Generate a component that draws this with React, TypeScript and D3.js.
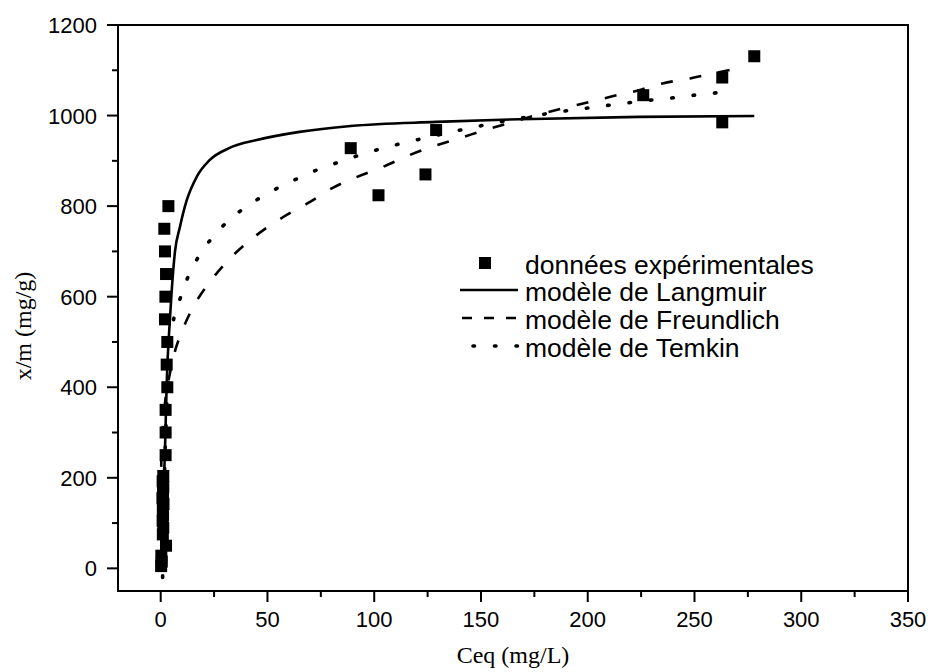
import React from "react";
import { scaleLinear, line, curveMonotoneX } from "d3";

// experimental points (Ceq mg/L, x/m mg/g)
const ceqExp = [0.2, 0.5, 0.3, 2.5, 1.0, 1.2, 0.9, 1.1, 1.0, 1.3, 0.8, 1.1, 1.2, 0.9, 1.2, 2.3, 2.3, 2.3, 3.1, 2.8, 3.1, 2.0, 2.2, 2.5, 2.0, 1.7, 3.6, 89, 102, 124, 129, 226, 263, 263, 278];
const qExp = [5, 15, 28, 50, 75, 90, 105, 118, 130, 142, 155, 168, 180, 192, 204, 250, 300, 350, 400, 450, 500, 550, 600, 650, 700, 750, 800, 928, 824, 870, 968, 1045, 1084, 985, 1131];

// fitted curves
const langmuirC = [0, 1, 2, 2.8, 4.4, 6.7, 9, 12.2, 16.9, 23, 32, 45, 65, 89, 129, 168, 224, 278];
const langmuirQ = [0, 130, 261, 408, 556, 700, 754, 813, 865, 902, 928, 946, 964, 977, 986, 992, 997, 999];

const freundlichC = [0.05, 0.3, 1, 2, 4, 6.2, 10.1, 15.3, 23.1, 33.2, 44.9, 57.4, 69.1, 80.8, 90.2, 104.2, 116.7, 128.4, 140, 152.6, 165, 176, 188.5, 201, 212, 224, 235, 248, 258.7, 274];
const freundlichQ = [160, 240, 313, 365, 423, 471, 525, 578, 633, 688, 736, 776, 807, 841, 861, 887, 913, 933, 950, 969, 986, 1001, 1016, 1030, 1043, 1056, 1071, 1082, 1093, 1108];

const temkinC = [0.9, 1.5, 2.5, 3.8, 5.9, 8.7, 12.2, 17.3, 23.9, 33.5, 43.7, 54, 64.1, 74.3, 84.7, 94.6, 105, 115, 125.3, 135.4, 145.6, 155.7, 176.8, 186, 196, 207, 217, 227, 237.6, 248, 258, 268];
const temkinQ = [-20, 150, 320, 440, 545, 590, 637, 685, 729, 775, 810, 838, 861, 882, 899, 915, 929, 941, 952, 963, 973, 983, 1001, 1008, 1014, 1021, 1027, 1033, 1038, 1044, 1049, 1055];

const xTicks = [0, 50, 100, 150, 200, 250, 300, 350];
const xMinor = [25, 75, 125, 175, 225, 275, 325];
const yTicks = [0, 200, 400, 600, 800, 1000, 1200];
const yMinor = [100, 300, 500, 700, 900, 1100];

const legendLabels = [
  "données expérimentales",
  "modèle de Langmuir",
  "modèle de Freundlich",
  "modèle de Temkin",
];

const sans = "'Liberation Sans', Arial, sans-serif";
const serif = "'Liberation Serif', 'Times New Roman', serif";

export default function App() {
  const x = scaleLinear().domain([-20, 350]).range([118, 908]);
  const y = scaleLinear().domain([-50, 1200]).range([591, 25]);
  const [x0, x1] = x.range();
  const [y0, y1] = y.range();

  const mk = (cs: number[], qs: number[]) =>
    line<number>()
      .x((d, i) => x(cs[i]))
      .y((d, i) => y(qs[i]))
      .curve(curveMonotoneX)(cs) || "";

  const lx = 460;
  const rows = [263, 290, 318, 346];

  return (
    <svg
      width={928}
      height={672}
      style={{ position: "absolute", left: 0, top: 0, background: "#fff" }}
    >
      <rect x={0} y={0} width={928} height={672} fill="#fff" />

      {/* curves */}
      <path d={mk(langmuirC, langmuirQ)} fill="none" stroke="#000" strokeWidth={2.6} />
      <path d={mk(freundlichC, freundlichQ)} fill="none" stroke="#000" strokeWidth={2.6} strokeDasharray="12,17" />
      <path d={mk(temkinC, temkinQ)} fill="none" stroke="#000" strokeWidth={3.6} strokeDasharray="1.5,20" strokeLinecap="round" />

      {/* experimental squares */}
      {ceqExp.map((c, i) => (
        <rect key={i} x={x(c) - 6} y={y(qExp[i]) - 6} width={12} height={12} fill="#000" />
      ))}

      {/* frame */}
      <rect x={x0} y={y1} width={x1 - x0} height={y0 - y1} fill="none" stroke="#000" strokeWidth={2} />

      {/* x axis ticks */}
      {xTicks.map((t) => (
        <g key={t}>
          <line x1={x(t)} x2={x(t)} y1={y0} y2={y0 + 11} stroke="#000" strokeWidth={2} />
          <text x={x(t)} y={627} textAnchor="middle" fontFamily={sans} fontSize={22} fill="#000">
            {t}
          </text>
        </g>
      ))}
      {xMinor.map((t) => (
        <line key={t} x1={x(t)} x2={x(t)} y1={y0} y2={y0 + 6} stroke="#000" strokeWidth={2} />
      ))}

      {/* y axis ticks */}
      {yTicks.map((t) => (
        <g key={t}>
          <line x1={x0 - 11} x2={x0} y1={y(t)} y2={y(t)} stroke="#000" strokeWidth={2} />
          <text x={97} y={y(t) + 8} textAnchor="end" fontFamily={sans} fontSize={22} fill="#000">
            {t}
          </text>
        </g>
      ))}
      {yMinor.map((t) => (
        <line key={t} x1={x0 - 6} x2={x0} y1={y(t)} y2={y(t)} stroke="#000" strokeWidth={2} />
      ))}

      {/* axis titles */}
      <text x={513} y={663} textAnchor="middle" fontFamily={serif} fontSize={24} fill="#000">
        Ceq (mg/L)
      </text>
      <text
        transform="translate(31,326) rotate(-90)"
        textAnchor="middle"
        fontFamily={serif}
        fontSize={24}
        fill="#000"
      >
        x/m (mg/g)
      </text>

      {/* legend */}
      <rect x={479} y={rows[0] - 6} width={12} height={12} fill="#000" />
      <line x1={lx} x2={518} y1={rows[1]} y2={rows[1]} stroke="#000" strokeWidth={2.6} />
      <line x1={lx} x2={518} y1={rows[2]} y2={rows[2]} stroke="#000" strokeWidth={2.6} strokeDasharray="10,12" strokeDashoffset={-2} />
      <line x1={lx + 13} x2={518} y1={rows[3]} y2={rows[3]} stroke="#000" strokeWidth={3.6} strokeDasharray="1.5,20" strokeLinecap="round" />
      {legendLabels.map((s, i) => (
        <text key={s} x={525} y={rows[i] + 11} fontFamily={sans} fontSize={26.5} fill="#000">
          {s}
        </text>
      ))}
    </svg>
  );
}
